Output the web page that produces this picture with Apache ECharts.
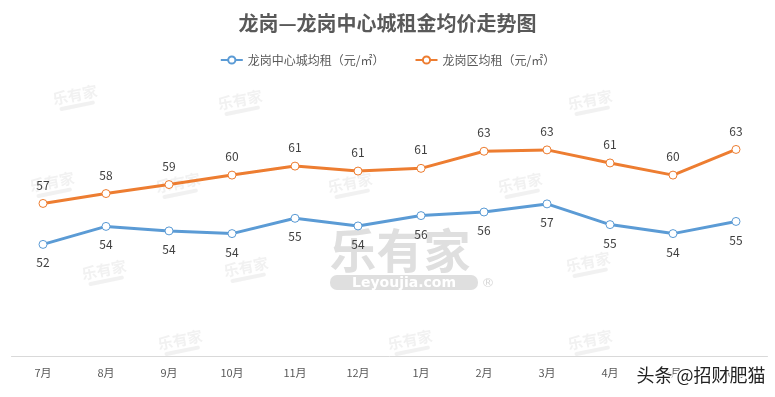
<!DOCTYPE html>
<html>
<head>
<meta charset="utf-8">
<script src="https://cdn.jsdelivr.net/npm/echarts@6/dist/echarts.min.js"></script>
<style>
html, body { margin: 0; padding: 0; background: #fff; }
#main { width: 775px; height: 397px; }
</style>
</head>
<body>
<div id="main"></div>
<script>
var months = ['7月', '8月', '9月', '10月', '11月', '12月', '1月', '2月', '3月', '4月', '5月', '6月'];
var centerRent = [52.4, 54.4, 53.9, 53.6, 55.3, 54.45, 55.6, 56.0, 56.9, 54.6, 53.6, 54.95];
var districtRent = [56.95, 58.05, 59.05, 60.1, 61.1, 60.55, 60.85, 62.75, 62.9, 61.45, 60.1, 62.95];
var seriesNames = ['龙岗中心城均租（元/㎡）', '龙岗区均租（元/㎡）'];

var font = '"Noto Sans CJK SC", "Microsoft YaHei", sans-serif';

// small faint logo marks scattered behind the chart
var smallMarks = [[75, 95], [240, 100], [590, 100], [52, 182], [178, 183], [350, 183], [520, 183],
	[104, 270], [246, 267], [588, 262], [180, 340], [410, 340], [590, 340]];

function markGraphic(p) {
	return {
		type: 'group', x: p[0], y: p[1], rotation: 0.2, z: 0,
		children: [
			{ type: 'text', style: { text: '乐有家', x: 0, y: 0, align: 'center', verticalAlign: 'middle',
				font: 'bold 15px ' + font, fill: 'rgba(200,200,200,0.25)' } },
			{ type: 'rect', shape: { x: -18, y: 9, width: 36, height: 4, r: 2 },
				style: { fill: 'rgba(200,200,200,0.25)' } }
		]
	};
}

var graphics = smallMarks.map(markGraphic);
graphics.push({
	type: 'text', x: 400, y: 250, z: 0,
	style: { text: '乐有家', align: 'center', verticalAlign: 'middle',
		font: 'bold 47px ' + font, fill: 'rgba(175,175,175,0.4)' }
});
graphics.push({
	type: 'rect', shape: { x: 330, y: 275, width: 148, height: 15, r: 7 }, z: 0,
	style: { fill: 'rgba(175,175,175,0.4)' }
});
graphics.push({
	type: 'text', x: 404, y: 283, z: 0,
	style: { text: 'Leyoujia.com', align: 'center', verticalAlign: 'middle',
		font: 'bold 14px "DejaVu Sans", sans-serif', fill: '#fff' }
});
graphics.push({
	type: 'text', x: 488, y: 284, z: 0,
	style: { text: '®', align: 'center', verticalAlign: 'middle',
		font: '13px "DejaVu Sans", sans-serif', fill: 'rgba(175,175,175,0.5)' }
});
graphics.push({
	type: 'text', right: 8, top: 365, z: 100,
	style: { text: '头条 @招财肥猫', font: '18px ' + font, fill: '#222',
		stroke: '#fff', lineWidth: 3 }
});

var myChart = echarts.init(document.getElementById('main'));
var option = {
	backgroundColor: '#fff',
	title: {
		text: '龙岗—龙岗中心城租金均价走势图',
		left: 'center',
		top: 8,
		textStyle: {
			fontFamily: font,
			fontSize: 20,
			fontWeight: 'bold',
			color: '#595959'
		}
	},
	legend: {
		top: 49,
		left: 'center',
		itemWidth: 22,
		itemHeight: 9,
		itemGap: 30,
		textStyle: {
			fontFamily: font,
			fontSize: 12,
			color: '#595959'
		},
		data: seriesNames
	},
	grid: {
		left: 11.5,
		right: 7.5,
		top: 86,
		bottom: 41,
		containLabel: false
	},
	xAxis: {
		type: 'category',
		data: months,
		boundaryGap: true,
		axisLine: { lineStyle: { color: '#d9d9d9', width: 1 } },
		axisTick: { show: false },
		axisLabel: {
			margin: 11,
			fontFamily: font,
			fontSize: 11,
			color: '#595959'
		}
	},
	yAxis: {
		type: 'value',
		min: 40,
		max: 70,
		show: false,
		splitLine: { show: false }
	},
	graphic: graphics,
	series: [{
		name: seriesNames[0],
		type: 'line',
		data: centerRent,
		z: 5,
		symbol: 'circle',
		symbolSize: 8,
		color: '#5B9BD5',
		lineStyle: { color: '#5B9BD5', width: 3 },
		itemStyle: { color: '#fff', borderColor: '#5B9BD5', borderWidth: 1 },
		label: {
			show: true,
			position: 'bottom',
			distance: 8,
			formatter: function(p) { return Math.round(p.value); },
			fontFamily: font,
			fontSize: 12,
			color: '#404040'
		}
	}, {
		name: seriesNames[1],
		type: 'line',
		data: districtRent,
		z: 5,
		symbol: 'circle',
		symbolSize: 8,
		color: '#ED7D31',
		lineStyle: { color: '#ED7D31', width: 3 },
		itemStyle: { color: '#fff', borderColor: '#ED7D31', borderWidth: 1 },
		label: {
			show: true,
			position: 'top',
			distance: 8,
			formatter: function(p) { return Math.round(p.value); },
			fontFamily: font,
			fontSize: 12,
			color: '#404040'
		}
	}]
};
myChart.setOption(option);
</script>
</body>
</html>
